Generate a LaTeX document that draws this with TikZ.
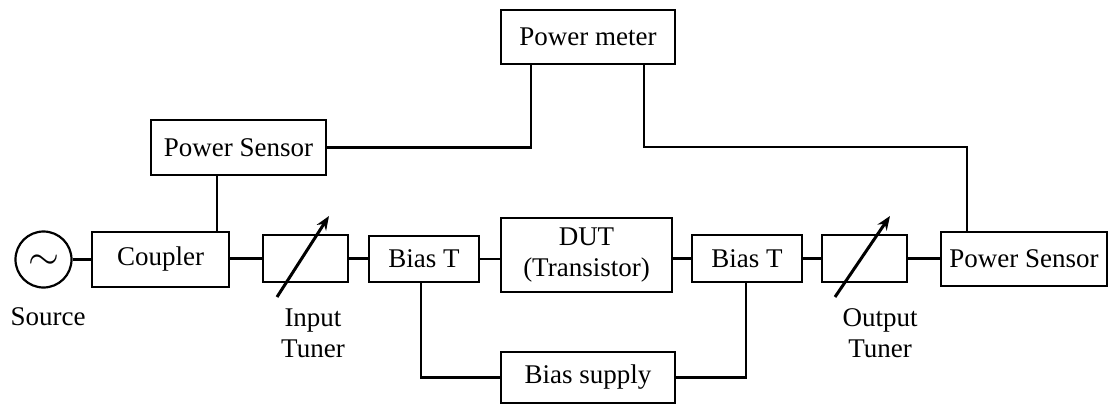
\documentclass[tikz,border=0pt]{standalone}
\usepackage{fontspec}
\usepackage{graphicx}
\setmainfont{Liberation Serif}
\usetikzlibrary{arrows.meta}
\begin{document}
\begin{tikzpicture}[x=1pt,y=-1pt,
  every node/.style={font=\fontsize{27}{31}\selectfont},
  blk/.style={draw,line width=2.2pt,inner sep=0pt,align=center},
  wire/.style={line width=2.2pt},
  tune/.style={line width=3pt,-{Stealth[length=14pt,width=11pt]}},
  lbl/.style={align=center,inner sep=0pt}]
\useasboundingbox (0,0) rectangle (1108,404);

% blocks
\node[draw,circle,line width=2.2pt,minimum size=56pt,inner sep=0pt] (src) at (43.5,259.5) {};
\node (tilde) at (43.5,262) {\scalebox{1.6}{$\sim$}};
\node[blk,minimum width=137pt,minimum height=55pt] (cpl) at (160.5,259.5) {Coupler};
\node[blk,minimum width=85pt,minimum height=47pt] (tin) at (305.5,258.5) {};
\node[blk,minimum width=110pt,minimum height=46pt] (bt1) at (424,259) {Bias T};
\node[blk,minimum width=171pt,minimum height=74pt] (dut) at (586.5,255) {DUT\\(Transistor)};
\node[blk,minimum width=110pt,minimum height=47pt] (bt2) at (747,258.5) {Bias T};
\node[blk,minimum width=85pt,minimum height=47pt] (tout) at (864.5,258.5) {};
\node[blk,minimum width=166pt,minimum height=54pt] (psr) at (1024,259) {Power Sensor};
\node[blk,minimum width=175pt,minimum height=55pt] (psl) at (238.5,147.5) {Power Sensor};
\node[blk,minimum width=174pt,minimum height=54pt] (pm) at (588,37) {Power meter};
\node[blk,minimum width=174pt,minimum height=51pt] (bs) at (588,377.5) {Bias supply};

% labels
\node[lbl] (srcl) at (48,317) {Source};
\node[lbl] (tinl) at (313,333) {Input\\Tuner};
\node[lbl] (toutl) at (880,333) {Output\\Tuner};

% helper points for wire routing
\coordinate (kc) at (217,0);
\coordinate (pmL) at (531,147);
\coordinate (pmR) at (644,147);
\coordinate (psrT) at (967,147);
\coordinate (b1x) at (421,0);
\coordinate (b2x) at (746,0);

% main signal chain
\draw[wire] (src.east) -- (cpl.west |- src.east);
\draw[wire] (cpl.east |- tin.west) -- (tin.west);
\draw[wire] (tin.east) -- (bt1.west |- tin.east);
\draw[wire] (bt1.east) -- (dut.west |- bt1.east);
\draw[wire] (dut.east |- bt2.west) -- (bt2.west);
\draw[wire] (bt2.east) -- (tout.west);
\draw[wire] (tout.east) -- (psr.west |- tout.east);

% power measurement
\draw[wire] (psl.south -| kc) -- (cpl.north -| kc);
\draw[wire] (psl.east) -| (pm.south -| pmL);
\draw[wire] (pm.south -| pmR) -- (pmR) -- (psrT) -- (psr.north -| psrT);

% bias feed
\draw[wire] (bt1.south -| b1x) |- (bs.west);
\draw[wire] (bs.east) -| (bt2.south -| b2x);

% tuner arrows
\coordinate (ti0) at (277,297);
\coordinate (ti1) at (329,216);
\coordinate (to0) at (835,297);
\coordinate (to1) at (890,216);
\draw[tune] (ti0) -- (ti1);
\draw[tune] (to0) -- (to1);
\end{tikzpicture}
\end{document}
